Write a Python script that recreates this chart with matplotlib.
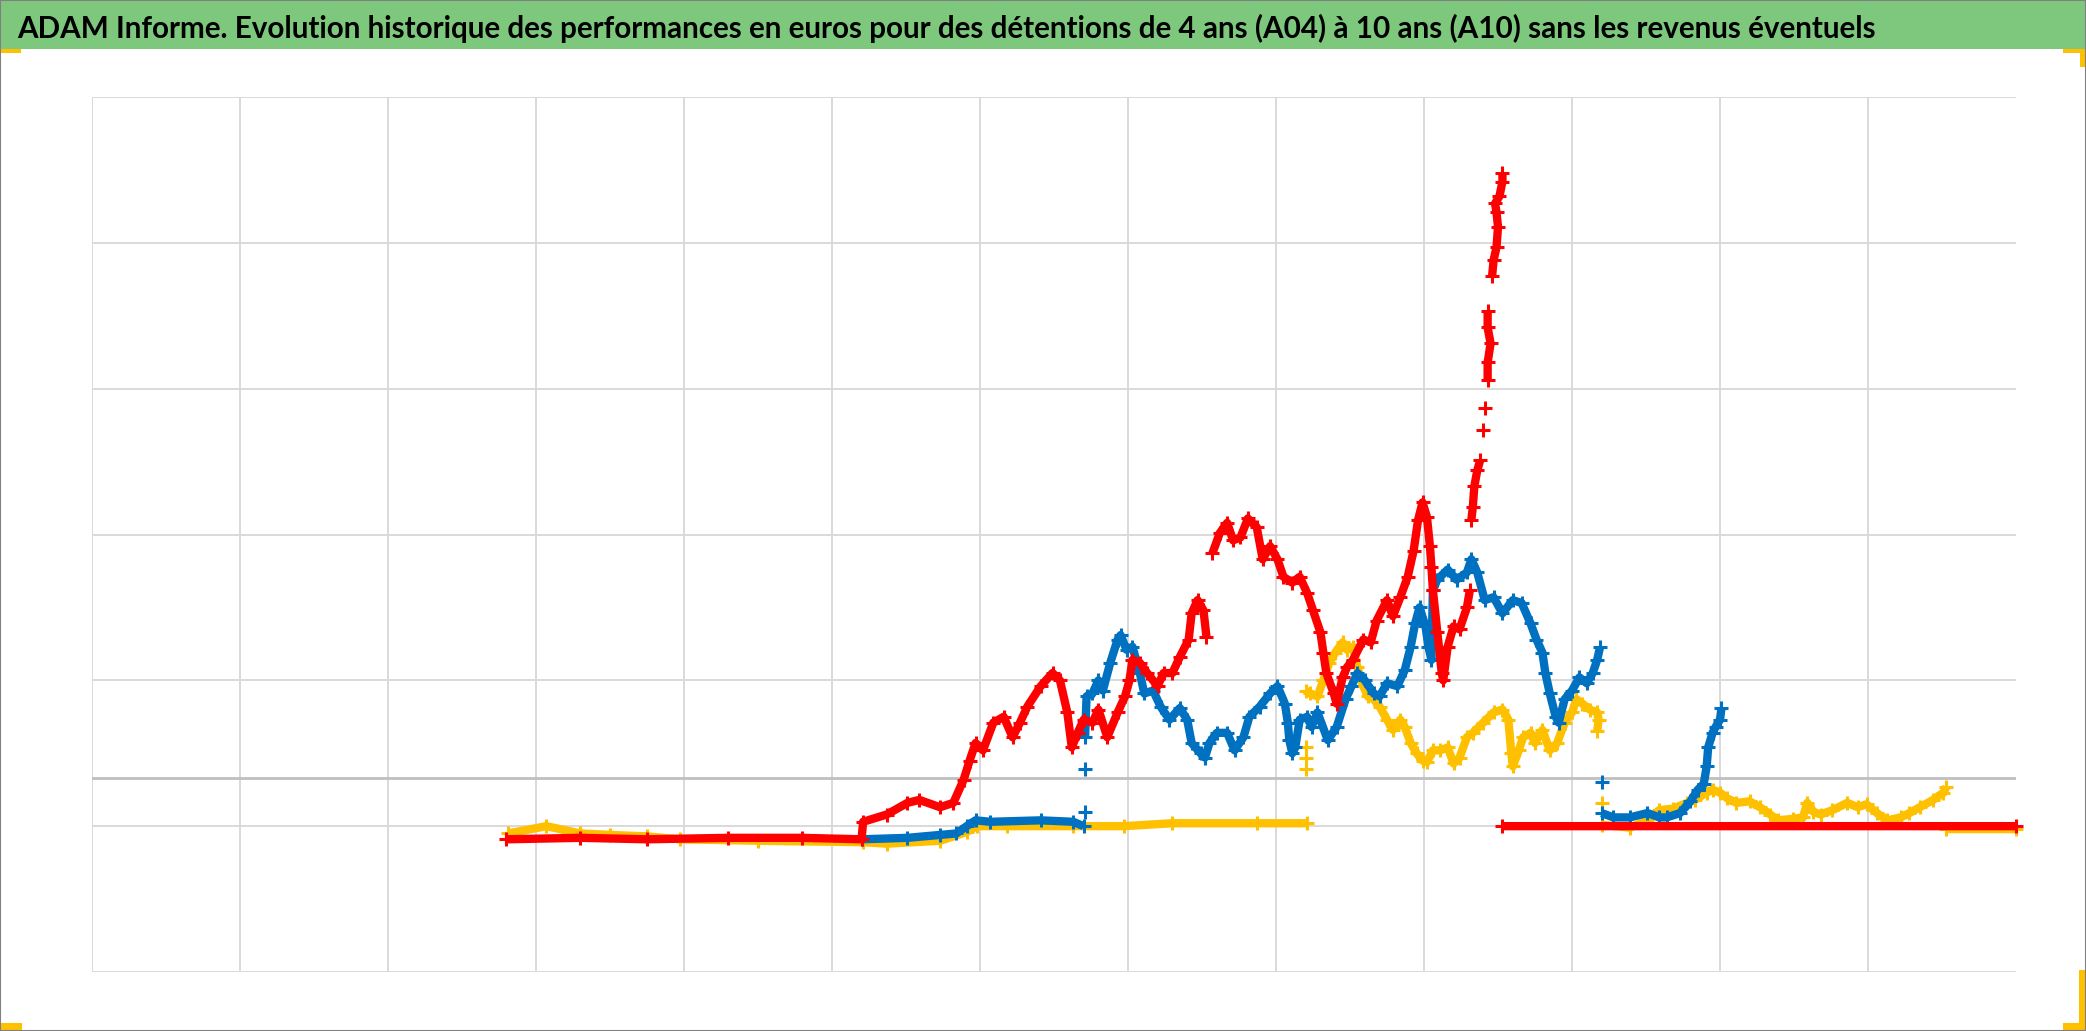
import numpy as np
import matplotlib
matplotlib.use("Agg")
import matplotlib.pyplot as plt
from matplotlib.patches import Rectangle

nan = np.nan

# --- data (x: grid units, y: grid units) ---
title = ("ADAM Informe. Evolution historique des performances en euros pour des "
         "détentions de 4 ans (A04) à 10 ans (A10) sans les revenus éventuels")

axis_level = 4 / 3   # where the horizontal axis crosses

yellow_x = [2.81, 3.07, 3.30, 3.50, 3.75, 3.97, 4.50, 5.21, 5.37, 5.73, 5.91, 5.98,
            6.18, 6.63, 6.97, 7.30, 7.87, 8.21, nan,
            8.20, nan, 8.20, nan, 8.20, nan,
            8.20, 8.23, 8.28, 8.32, 8.36, 8.40, 8.45, 8.48, 8.52, 8.55, 8.59, 8.62,
            8.66, 8.70, 8.75, 8.79, 8.84, 8.87, 8.91, 8.95, 8.99, 9.02, 9.06, 9.11,
            9.16, 9.20, 9.24, 9.29, 9.33, 9.40, 9.47, 9.53, 9.57, 9.59, 9.60, 9.64,
            9.67, 9.72, 9.75, 9.80, 9.85, 9.90, 9.95, 10.00, 10.03, 10.07, 10.12,
            10.17, 10.18, 10.17, nan,
            10.20, nan,
            10.20, 10.39, 10.51, 10.59, 10.68, 10.78, 10.83, 10.91, 10.95, 11.00,
            11.05, 11.11, 11.20, 11.27, 11.34, 11.39, 11.49, 11.56, 11.59, 11.63,
            11.68, 11.76, 11.86, 11.93, 11.99, 12.06, 12.13, 12.22, 12.28, 12.35,
            12.44, 12.51, 12.53, nan,
            12.53, 13.00]
yellow_y = [0.95, 1.00, 0.95, 0.94, 0.93, 0.91, 0.90, 0.89, 0.88, 0.90, 0.96, 1.00,
            1.00, 1.00, 1.00, 1.02, 1.02, 1.02, nan,
            1.39, nan, 1.47, nan, 1.54, nan,
            1.93, 1.91, 1.89, 2.00, 2.12, 2.19, 2.26, 2.21, 2.23, 2.09, 1.96, 1.89,
            1.87, 1.82, 1.73, 1.66, 1.73, 1.68, 1.57, 1.50, 1.45, 1.44, 1.52, 1.52,
            1.54, 1.43, 1.47, 1.61, 1.64, 1.71, 1.78, 1.80, 1.73, 1.50, 1.41, 1.52,
            1.61, 1.64, 1.57, 1.66, 1.52, 1.57, 1.71, 1.78, 1.87, 1.84, 1.80,
            1.78, 1.73, 1.65, nan,
            1.16, nan,
            1.01, 0.99, 1.04, 1.11, 1.12, 1.16, 1.18, 1.23, 1.25, 1.23,
            1.19, 1.16, 1.17, 1.13, 1.08, 1.04, 1.05, 1.06, 1.16, 1.10,
            1.08, 1.11, 1.16, 1.13, 1.15, 1.09, 1.04, 1.06, 1.09, 1.13,
            1.18, 1.23, 1.27, nan,
            0.98, 0.98]

blue_x = [5.20, 5.51, 5.73, 5.84, 5.91, 5.97, 6.07, 6.41, 6.63, 6.70, nan,
          6.71, nan, 6.71, nan,
          6.71, 6.72, 6.76, 6.80, 6.83, 6.88, 6.93, 6.95, 6.99, 7.03, 7.08, 7.11,
          7.17, 7.22, 7.28, 7.35, 7.40, 7.43, 7.49, 7.52, 7.55, 7.60, 7.67, 7.72,
          7.78, 7.82, 7.89, 7.96, 8.01, 8.06, 8.08, 8.09, 8.11, 8.13, 8.16, 8.21,
          8.24, 8.28, 8.35, 8.41, 8.47, 8.51, 8.55, 8.60, 8.66, 8.70, 8.75, 8.82,
          8.87, 8.91, 8.94, 8.97, 9.01, 9.03, 9.05, 9.06, 9.09, 9.16, 9.22, 9.29,
          9.32, 9.36, 9.41, 9.47, 9.53, 9.60, 9.66, 9.72, 9.76, 9.80, 9.82, 9.85,
          9.89, 9.91, 9.95, 10.00, 10.05, 10.10, 10.14, 10.17, 10.19, nan,
          10.20, nan,
          10.20, 10.28, 10.39, 10.51, 10.59, 10.64, 10.73, 10.80, 10.85, 10.89,
          10.91, 10.92, 10.95, 10.97, 11.00, 11.01]
blue_y = [0.91, 0.92, 0.94, 0.95, 1.00, 1.04, 1.03, 1.04, 1.03, 1.00, nan,
          1.10, nan, 1.39, nan,
          1.61, 1.89, 1.91, 2.00, 1.93, 2.12, 2.28, 2.31, 2.21, 2.23, 2.05, 1.91,
          1.93, 1.82, 1.73, 1.81, 1.73, 1.57, 1.50, 1.47, 1.57, 1.64, 1.64, 1.52,
          1.61, 1.75, 1.82, 1.91, 1.96, 1.84, 1.71, 1.59, 1.50, 1.54, 1.73, 1.75,
          1.68, 1.78, 1.59, 1.68, 1.87, 1.96, 2.05, 2.00, 1.91, 1.89, 1.98, 1.96,
          2.07, 2.23, 2.39, 2.50, 2.37, 2.23, 2.14, 2.62, 2.69, 2.76, 2.69, 2.74,
          2.83, 2.74, 2.55, 2.57, 2.46, 2.55, 2.53, 2.39, 2.28, 2.19, 2.05, 1.91,
          1.75, 1.71, 1.87, 1.93, 2.02, 1.98, 2.05, 2.14, 2.23, nan,
          1.30, nan,
          1.09, 1.06, 1.06, 1.09, 1.06, 1.06, 1.09, 1.17, 1.25, 1.29,
          1.41, 1.54, 1.64, 1.68, 1.73, 1.81]

red_x = [2.80, 3.30, 3.75, 4.30, 4.80, 5.20,
         5.21, 5.37, 5.51, 5.59, 5.73, 5.82, 5.89, 5.93, 5.97, 6.02, 6.09, 6.16,
         6.22, 6.27, 6.32, 6.41, 6.49, 6.54, 6.59, 6.62, 6.66, 6.70, 6.76, 6.80,
         6.86, 6.93, 6.98, 7.01, 7.03, 7.08, 7.13, 7.20, 7.24, 7.30, 7.35, 7.41,
         7.43, 7.47, 7.51, 7.53, nan,
         7.57, 7.62, 7.67, 7.71, 7.76, 7.81, 7.87, 7.91, 7.96, 8.01, 8.05, 8.11,
         8.16, 8.21, 8.25, 8.30, 8.32, 8.34, 8.39, 8.41, 8.45, 8.48, 8.52, 8.59,
         8.64, 8.68, 8.75, 8.79, 8.84, 8.89, 8.93, 8.96, 8.99, 9.02, 9.04, 9.05,
         9.06, 9.09, 9.12, 9.13, 9.16, 9.20, 9.24, 9.29, 9.31, nan,
         9.32, 9.33, 9.34, 9.36, 9.38, nan, 9.40, nan, 9.41, nan, 9.43, 9.43,
         9.45, 9.43, 9.43, nan, 9.46, 9.47, 9.49, 9.50, 9.49, 9.48, 9.51, 9.53,
         9.53, nan,
         9.53, 13.00]
red_y = [0.91, 0.92, 0.91, 0.92, 0.92, 0.91,
         1.03, 1.08, 1.16, 1.18, 1.13, 1.16, 1.32, 1.45, 1.57, 1.52, 1.71, 1.75,
         1.61, 1.71, 1.82, 1.96, 2.05, 2.00, 1.78, 1.54, 1.64, 1.73, 1.71, 1.80,
         1.61, 1.78, 1.89, 2.00, 2.14, 2.12, 2.05, 1.96, 2.05, 2.05, 2.16, 2.28,
         2.46, 2.55, 2.48, 2.30, nan,
         2.87, 3.01, 3.08, 2.96, 2.98, 3.11, 3.05, 2.83, 2.92, 2.83, 2.71, 2.67,
         2.71, 2.60, 2.48, 2.33, 2.19, 2.05, 1.91, 1.84, 2.02, 2.09, 2.14, 2.28,
         2.26, 2.41, 2.55, 2.44, 2.57, 2.71, 2.89, 3.10, 3.22, 3.12, 2.92, 2.78,
         2.62, 2.33, 2.05, 2.00, 2.23, 2.37, 2.35, 2.50, 2.62, nan,
         3.10, 3.19, 3.33, 3.44, 3.51, nan, 3.72, nan, 3.87, nan, 4.06, 4.18,
         4.31, 4.42, 4.53, nan, 4.77, 4.88, 4.97, 5.11, 5.21, 5.27, 5.32, 5.42,
         5.48, nan,
         1.00, 1.00]

series = [
    (yellow_x, yellow_y, "#FFC000"),
    (blue_x, blue_y, "#0070C0"),
    (red_x, red_y, "#FF0000"),
]

# --- figure ---
W, H, DPI = 2086, 1031, 100
fig = plt.figure(figsize=(W / DPI, H / DPI), dpi=DPI)
fig.patch.set_facecolor("white")

# green title band
fig.patches.append(Rectangle((0, 1 - 49 / H), 1, 49 / H, transform=fig.transFigure,
                             facecolor="#7DC87D", edgecolor="none", zorder=0))
t = fig.text(17 / W, 1 - 38 / H, title, ha="left", va="baseline",
             fontsize=20, fontweight="bold", color="black", family="Lato")
# fit the title to the width it takes in the reference
fig.canvas.draw()
w = t.get_window_extent().width
t.set_fontsize(20 * 1862 / w)

ax = fig.add_axes([92 / W, 1 - 972 / H, 1924 / W, 875 / H])
for s in ax.spines.values():
    s.set_visible(False)
ax.set_xlim(0, 13)
ax.set_ylim(0, 6)
ax.set_xticks(range(0, 13))
ax.set_yticks(range(0, 7))
ax.tick_params(length=0, labelbottom=False, labelleft=False)
ax.grid(True, color="#D9D9D9", lw=1.4, zorder=0)
ax.set_axisbelow(True)
ax.axhline(axis_level, color="#BFBFBF", lw=2, zorder=1)

for xs, ys, c in series:
    ax.plot(xs, ys, color=c, lw=6, marker="+", ms=10, mew=2.2,
            solid_capstyle="butt", solid_joinstyle="round", zorder=3, clip_on=False)

# orange crop marks in the corners and frame
orange = "#FFC000"
marks = [(0, 49, 21, 4), (2063, 49, 23, 4), (2080, 49, 6, 18),
         (0, 1023, 22, 7), (2063, 1023, 23, 7), (2079, 970, 7, 60)]
for mx, my, mw, mh in marks:
    fig.patches.append(Rectangle((mx / W, 1 - (my + mh) / H), mw / W, mh / H,
                                 transform=fig.transFigure, facecolor=orange,
                                 edgecolor="none", zorder=5))
fig.patches.append(Rectangle((0, 0), 1, 1, transform=fig.transFigure,
                             facecolor="none", edgecolor="#808080", lw=1.5, zorder=6))

fig.savefig("out.png", dpi=DPI)
